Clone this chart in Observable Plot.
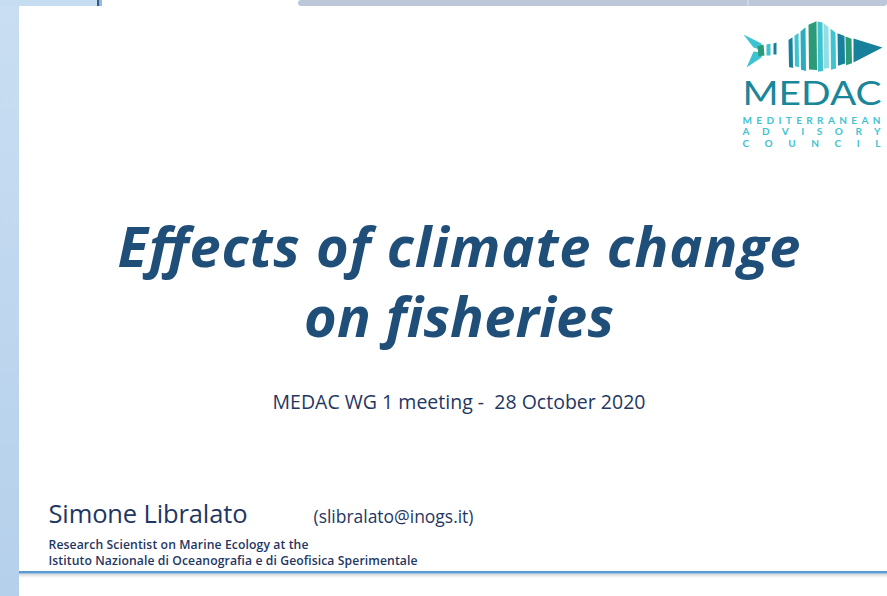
<!DOCTYPE html>
<html><head><meta charset="utf-8">
<script src="https://cdn.jsdelivr.net/npm/d3@7"></script>
<script src="https://cdn.jsdelivr.net/npm/@observablehq/plot@0.6"></script>
<style>
html,body{margin:0;padding:0;background:#fff;overflow:hidden;}
#chart svg{display:block;}
#chart text{white-space:pre;}
</style></head><body><div id="chart"></div>
<script>
// ---- content (text only) ----
const titleLines = ["Effects of climate change", "on fisheries"];
const meetingLine = ["MEDAC WG 1 meeting -  28 October 2020"];
const authorName = ["Simone Libralato"];
const authorEmail = ["(slibralato@inogs.it)"];
const affiliationLines = [
  "Research Scientist on Marine Ecology at the",
  "Istituto Nazionale di Oceanografia e di Geofisica Sperimentale"
];
const logoWord = ["MEDAC"];
const logoTagline = ["MEDITERRANEAN", "ADVISORY", "COUNCIL"];

// ---- layout & style (kept separate from content) ----
const W = 887, H = 596;
const NAVY = "#1f3763", TITLE = "#1f4e79";
const TEAL = "#17809a", GREEN = "#2a9a78", CYAN = "#3ec4d0", LIGHT = "#93dde4";
const SANS = "'Open Sans', Lato, sans-serif";
const titleBaselines = [266, 336];
const affBaselines = [548, 564];
const taglineBaselines = [123.5, 134.5, 146];
// rendered line widths in the slide (px)
const fitWidths = new Map([
  [titleLines[0], 683], [titleLines[1], 310], [meetingLine[0], 373],
  [authorName[0], 199], [authorEmail[0], 160],
  [affiliationLines[0], 260], [affiliationLines[1], 369],
  [logoWord[0], 139], [logoTagline[0], 138], [logoTagline[1], 138], [logoTagline[2], 138]
]);

// fish logo outline (decorative)
const fishTop = d3.scaleLinear().domain([786, 800, 813, 822, 835, 850, 853, 882]).range([40, 30, 19, 21, 31, 37, 38, 47]);
const fishBot = d3.scaleLinear().domain([786, 812, 832, 850, 853, 882]).range([66, 72, 69, 63, 62, 47]);
const stripes = [
  [788, 792, TEAL], [794, 798, CYAN], [800, 805, "#2aaebf"], [808, 816, GREEN],
  [817, 822, CYAN], [823, 828, LIGHT], [830, 835, CYAN], [837, 844, TEAL], [845, 851, GREEN]
];
const fishPolys = [];
stripes.forEach(([a, b, c], i) => {
  const s = (i % 2 ? -1 : 1);
  fishPolys.push({c, pts: [[a, fishTop(a) + 1], [b, fishTop(b) + 1], [b + 0.5, fishBot(b) - 1 + s], [a + 0.5, fishBot(a) - 1 + s]]});
});
fishPolys.push({c: TEAL, pts: [[853, fishTop(853)], [882, 47], [853, fishBot(853)]]});
fishPolys.push({c: CYAN, pts: [[743, 34], [761, 43], [762, 50], [753, 47]]});
fishPolys.push({c: CYAN, pts: [[753, 51], [762, 52], [761, 57], [746, 67]]});
fishPolys.push({c: GREEN, pts: [[757, 46], [763, 44], [764, 55], [758, 56]]});
fishPolys.push({c: CYAN, pts: [[766, 44], [770, 43], [770, 55], [766, 55]]});
fishPolys.push({c: TEAL, pts: [[773, 43], [776, 42], [776, 54], [773, 54]]});
const fishRows = fishPolys.flatMap((p, id) => p.pts.map(([x, y]) => ({id, c: p.c, x, y})));

const K = [0];
const rect = (x1, x2, y1, y2, fill, extra = {}) => Plot.rect(K, {x1: () => x1, x2: () => x2, y1: () => y1, y2: () => y2, fill, ...extra});

const chart = Plot.plot({
  width: W, height: H, margin: 0,
  x: {domain: [0, W], range: [0, W], axis: null},
  y: {domain: [0, H], range: [0, H], axis: null},
  color: {type: "identity"},
  style: {background: "transparent", overflow: "visible"},
  marks: [
    // slide frame
    rect(0, 19, 0, H, "url(#leftGrad)"),
    rect(0, 97, 0, 6, "#c6dcf1"),
    rect(97, 99.5, 0, 6, "#2e5b91"),
    rect(99.5, 102, 0, 6, "#9db8d8"),
    rect(298, W, 0, 6, "#bcc8d9", {rx: 3}),
    rect(301, W, 0, 3, "#bcc8d9"),
    rect(747.5, 748.5, 0, 6, "#dbe3ee"),
    rect(19, W, 573.5, 578, "url(#shadowGrad)"),
    rect(19, W, 571, 573.5, "#5b9bd5"),
    // logo
    Plot.line(fishRows, {x: "x", y: "y", z: "id", fill: "c", stroke: "none"}),
    Plot.text(logoWord, {x: () => 742, y: () => 104.5, text: d => d, textAnchor: "start", lineAnchor: "bottom",
      fill: "#1a8799", fontFamily: "Lato", fontWeight: 400, fontSize: 32}),
    Plot.text(logoTagline, {x: () => 742, y: (d, i) => taglineBaselines[i], text: d => d, textAnchor: "start", lineAnchor: "bottom",
      fill: "#3fc3cf", fontFamily: "Lato", fontWeight: "bold", fontSize: 10}),
    // title
    Plot.text(titleLines, {x: () => 458.5, y: (d, i) => titleBaselines[i], text: d => d, textAnchor: "middle", lineAnchor: "bottom",
      fill: TITLE, fontFamily: SANS, fontWeight: "bold", fontStyle: "italic", fontSize: 56}),
    Plot.text(meetingLine, {x: () => 458.5, y: () => 408, text: d => d, textAnchor: "middle", lineAnchor: "bottom",
      fill: NAVY, fontFamily: SANS, fontSize: 19.5}),
    Plot.text(authorName, {x: () => 48, y: () => 522, text: d => d, textAnchor: "start", lineAnchor: "bottom",
      fill: NAVY, fontFamily: SANS, fontSize: 25.5}),
    Plot.text(authorEmail, {x: () => 313, y: () => 522, text: d => d, textAnchor: "start", lineAnchor: "bottom",
      fill: NAVY, fontFamily: SANS, fontSize: 17.5}),
    Plot.text(affiliationLines, {x: () => 48, y: (d, i) => affBaselines[i], text: d => d, textAnchor: "start", lineAnchor: "bottom",
      fill: NAVY, fontFamily: SANS, fontWeight: 600, fontSize: 12.2})
  ]
});

// gradients + fit line widths to the slide
const svg = d3.select(chart);
const defs = svg.insert("defs", ":first-child");
const lg = defs.append("linearGradient").attr("id", "leftGrad").attr("x1", 0).attr("y1", 0).attr("x2", 0).attr("y2", 1);
lg.append("stop").attr("offset", 0).attr("stop-color", "#c9def2");
lg.append("stop").attr("offset", 1).attr("stop-color", "#b5d0eb");
const sg = defs.append("linearGradient").attr("id", "shadowGrad").attr("x1", 0).attr("y1", 0).attr("x2", 0).attr("y2", 1);
sg.append("stop").attr("offset", 0).attr("stop-color", "#d4d4d4");
sg.append("stop").attr("offset", 1).attr("stop-color", "#ffffff");
svg.selectAll("text").each(function () {
  const t = this.textContent;
  if (fitWidths.has(t)) {
    d3.select(this).attr("textLength", fitWidths.get(t))
      .attr("lengthAdjust", logoWord.includes(t) ? "spacingAndGlyphs" : "spacing");
  }
});
document.getElementById("chart").append(chart);
</script></body></html>
